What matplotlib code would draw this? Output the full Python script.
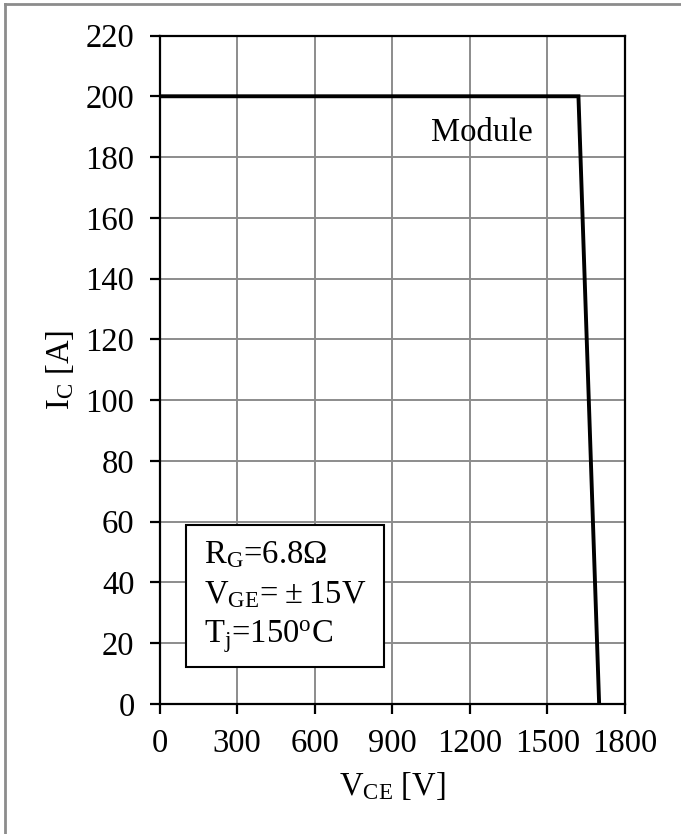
import matplotlib
matplotlib.use("Agg")
import matplotlib.pyplot as plt
from matplotlib.lines import Line2D
from matplotlib.patches import Rectangle

# RBSOA curve
vce = [0, 1620, 1700]
ic = [200, 200, 0]
xticks = [0, 300, 600, 900, 1200, 1500, 1800]
yticks = list(range(0, 221, 20))
cond_lines = [r"$\mathregular{R_G}$=6.8Ω",
              r"$\mathregular{V_{GE}}$=" + "\u2009±\u200915V",
              r"$\mathregular{T_j}$=150$\mathregular{^oC}$"]

plt.rcParams["font.family"] = ["Liberation Serif", "DejaVu Serif"]
plt.rcParams["mathtext.fontset"] = "custom"
plt.rcParams["mathtext.rm"] = "Liberation Serif"
plt.rcParams["mathtext.it"] = "Liberation Serif"
FS = 23.5

fig = plt.figure(figsize=(6.81, 8.34), dpi=100)
W, H = 681, 834
ax = fig.add_axes([159.5 / W, 1 - 704 / H, (625 - 159.5) / W, (704 - 35.5) / H])

ax.plot(vce, ic, color="black", lw=2.8, solid_joinstyle="miter", zorder=3)
ax.set_xlim(0, 1800); ax.set_ylim(0, 220)
ax.set_xticks(xticks); ax.set_yticks(yticks)
ax.grid(True, color="#8c8c8c", lw=1.4)
for s in ax.spines.values():
    s.set_linewidth(1.6); s.set_color("black")
ax.tick_params(direction="out", length=7, width=1.6, labelsize=FS, color="black")
ax.tick_params(axis="y", pad=11)
ax.tick_params(axis="x", pad=11)

fig.text(392 / W, 1 - 786 / H, r"$\mathregular{V_{CE}}$ [V]", ha="center", va="center", fontsize=FS)
fig.text(60 / W, 1 - 370 / H, r"$\mathregular{I_C}$ [A]", ha="center", va="center",
         rotation=90, fontsize=FS)

ax.text(1245, 188, "Module", ha="center", va="center", fontsize=FS, zorder=4)

# condition box
bx0, by0 = (186 - 159.5) / 465.5, (704 - 667) / 668.5
bx1, by1 = (384 - 159.5) / 465.5, (704 - 525) / 668.5
ax.add_patch(Rectangle((bx0, by0), bx1 - bx0, by1 - by0, transform=ax.transAxes,
                       facecolor="white", edgecolor="black", lw=1.5, zorder=4))
for i, t in enumerate(cond_lines):
    yb = 563 + 40 * i
    ax.text((204 - 159.5) / 465.5, (704 - yb) / 668.5, t, transform=ax.transAxes,
            ha="left", va="baseline", fontsize=FS, zorder=5,
            family=["Liberation Serif", "DejaVu Serif"])

# gray frame along the left and top edges
fig.add_artist(Line2D([5 / W, 5 / W], [0, 1 - 4 / H], transform=fig.transFigure,
                      color="#8c8c8c", lw=2))
fig.add_artist(Line2D([5 / W, 1], [1 - 4 / H, 1 - 4 / H], transform=fig.transFigure,
                      color="#8c8c8c", lw=2))

fig.savefig("out.png", dpi=100)
